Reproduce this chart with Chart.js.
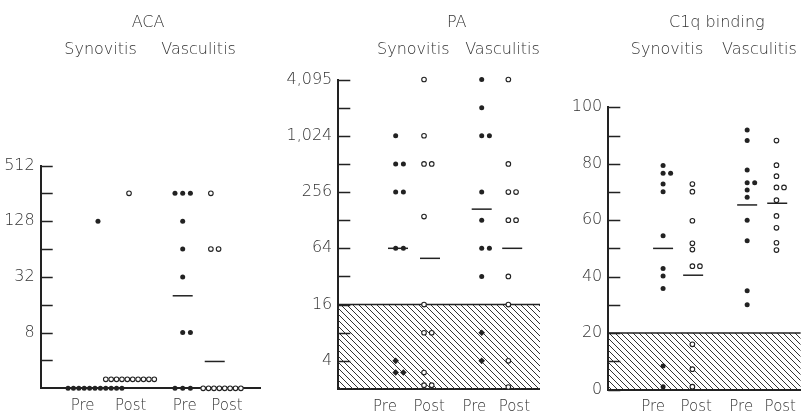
<!DOCTYPE html>
<html>
<head>
<meta charset="utf-8">
<script src="https://cdn.jsdelivr.net/npm/chart.js@4.4.1/dist/chart.umd.min.js"></script>
<style>
  body { margin: 0; background: #fff; }
  #wrap { position: relative; width: 805px; height: 416px; }
  canvas { position: absolute; top: 0; }
</style>
</head>
<body>
<div id="wrap">
  <canvas id="aca" width="270" height="416" style="left:0px"></canvas>
  <canvas id="pa" width="270" height="416" style="left:270px"></canvas>
  <canvas id="c1q" width="265" height="416" style="left:540px"></canvas>
</div>
<script>
var ink = '#222';
var categories = ['Pre', 'Post', 'Pre', 'Post'];
var groupNames = ['Synovitis', 'Vasculitis'];

// ACA titres, log2 axis (undetectable sera sit on the floor at 2)
var acaTicks = [4, 8, 16, 32, 64, 128, 256, 512];
var acaTickLabels = ['', '8', '', '32', '', '128', '', '512'];
var acaSynPre = [128, 2, 2, 2, 2, 2, 2, 2, 2, 2, 2, 2];
var acaSynPost = [256, 2.5, 2.5, 2.5, 2.5, 2.5, 2.5, 2.5, 2.5, 2.5, 2.5];
var acaVasPre = [256, 256, 256, 128, 64, 32, 8, 8, 2, 2, 2];
var acaVasPost = [256, 64, 64, 2, 2, 2, 2, 2, 2, 2, 2];
var acaMeans = [null, null, 20, 3.9];

// PA titres, log2 axis, normal range below 16
var paTicks = [4, 8, 16, 32, 64, 128, 256, 512, 1024, 2048, 4096];
var paTickLabels = ['4', '', '16', '', '64', '', '256', '', '1,024', '', '4,095'];
var paSynPre = [1024, 512, 512, 256, 256, 64, 64, 4, 3, 3];
var paSynPost = [4096, 1024, 512, 512, 140, 16, 8, 8, 3, 2.2, 2.2];
var paVasPre = [4096, 2048, 1024, 1024, 256, 128, 64, 64, 32, 8, 4];
var paVasPost = [4096, 512, 256, 256, 128, 128, 32, 16, 4, 2.1];
var paMeans = [64, 50, 168, 64];

// C1q binding (%), normal range below 20
var c1qTicks = [0, 10, 20, 30, 40, 50, 60, 70, 80, 90, 100];
var c1qTickLabels = ['0', '', '20', '', '40', '', '60', '', '80', '', '100'];
var c1qSynPre = [79.4, 76.6, 76.6, 72.8, 70.1, 54.5, 42.9, 40.2, 35.8, 8.3, 1];
var c1qSynPost = [72.8, 70.1, 59.8, 51.8, 49.6, 43.7, 43.7, 16, 7.2, 1];
var c1qVasPre = [92, 88.2, 77.8, 73.3, 73.3, 70.7, 68.1, 60, 52.7, 35, 30];
var c1qVasPost = [88.2, 79.5, 75.6, 71.6, 71.6, 67.1, 61.5, 57.3, 52, 49.4];
var c1qMeans = [50, 40.5, 65.4, 66];

Chart.defaults.font.family = '"DejaVu Sans", sans-serif';
Chart.defaults.font.size = 16;
Chart.defaults.font.weight = 200;
Chart.defaults.color = '#333';

function hatchPattern() {
  var c = document.createElement('canvas');
  c.width = 6; c.height = 6;
  var g = c.getContext('2d');
  g.strokeStyle = '#333';
  g.lineWidth = 1;
  g.beginPath();
  [-6, 0, 6].forEach(function (k) { g.moveTo(0, k); g.lineTo(6, 6 + k); });
  g.stroke();
  return g.createPattern(c, 'repeat');
}

// equal values go side by side in one row
function layoutRows(values, col, shift) {
  var counts = new Map();
  values.forEach(function (v) { counts.set(v, (counts.get(v) || 0) + 1); });
  var pts = [];
  counts.forEach(function (n, v) {
    var step = 1, start = col;
    if (n === 3) start = col - 1;
    if (n > 3) { step = 0.7; start = col + shift - (n - 1) * step / 2; }
    for (var i = 0; i < n; i++) pts.push({ x: start + i * step, y: v });
  });
  return pts;
}

var panelText = {
  id: 'panelText',
  afterDraw: function (chart, args, o) {
    var ctx = chart.ctx, x = chart.scales.x, y = chart.scales.y, area = chart.chartArea;
    ctx.save();
    ctx.fillStyle = '#333';
    ctx.textAlign = 'center';
    ctx.textBaseline = 'alphabetic';
    ctx.font = '200 16px "DejaVu Sans"';
    ctx.fillText(o.title, x.getPixelForValue(o.titleAt), 26.5);
    o.groupAt.forEach(function (u, i) {
      ctx.fillText(groupNames[i], x.getPixelForValue(u), 54);
    });
    // tick marks point into the plot
    ctx.strokeStyle = ink;
    ctx.lineWidth = 1.5;
    ctx.beginPath();
    y.ticks.forEach(function (t) {
      var py = Math.round(y.getPixelForValue(t.value)) + 0.5;
      ctx.moveTo(area.left, py);
      ctx.lineTo(area.left + 12, py);
    });
    ctx.stroke();
    ctx.restore();
  }
};

function makePanel(p) {
  var filled = [], open = [], means = [];
  p.groups.forEach(function (vals, g) {
    var target = g % 2 === 0 ? filled : open;
    layoutRows(vals, p.cols[g], p.rowShift[g]).forEach(function (pt) { target.push(pt); });
    if (p.means[g] != null) means.push({ x: p.cols[g] + p.meanShift[g], y: p.means[g] });
  });
  var inHatch = function (ctx) {
    return p.diamonds && ctx.raw && ctx.raw.y < p.threshold;
  };
  var datasets = [
    { data: means, pointStyle: 'line', pointRadius: 10, borderColor: ink, borderWidth: 1.5, order: 0, clip: false },
    { data: filled, order: 1, clip: false,
      pointStyle: function (ctx) { return inHatch(ctx) ? 'rectRot' : 'circle'; },
      pointRadius: function (ctx) { return inHatch(ctx) ? 3.3 : 2.5; },
      backgroundColor: ink, borderColor: ink, borderWidth: 0 },
    { data: open, order: 1, clip: false, pointStyle: 'circle', pointRadius: 2.3,
      backgroundColor: '#fff', borderColor: ink, borderWidth: 1.1 }
  ];
  if (p.threshold != null) {
    datasets.push({
      type: 'line', order: 5,
      data: [{ x: 0, y: p.threshold }, { x: p.xMax, y: p.threshold }],
      fill: 'start', backgroundColor: hatchPattern(),
      borderColor: ink, borderWidth: 1.5, pointRadius: 0
    });
  }
  return new Chart(document.getElementById(p.id), {
    type: 'scatter',
    data: { datasets: datasets },
    options: {
      responsive: false,
      animation: false,
      events: [],
      layout: { autoPadding: false, padding: { top: p.top, right: p.right, bottom: 0, left: 0 } },
      plugins: {
        legend: { display: false },
        tooltip: { enabled: false },
        panelText: { title: p.title, titleAt: p.titleAt, groupAt: p.groupAt }
      },
      scales: {
        x: {
          type: 'linear', min: 0, max: p.xMax, bounds: 'data',
          grid: { display: false, drawTicks: false },
          border: { display: true, color: ink, width: 2 },
          afterFit: function (s) { s.height = p.xHeight; },
          afterBuildTicks: function (s) { s.ticks = p.labelAt.map(function (v) { return { value: v }; }); },
          ticks: { autoSkip: false, maxRotation: 0, padding: 9, font: { size: 15 },
            callback: function (v, i) { return categories[i]; } }
        },
        y: {
          type: p.yType, min: p.yMin, max: p.yMax, bounds: 'data',
          grid: { display: false, drawTicks: false },
          border: { display: true, color: ink, width: 2 },
          afterFit: function (s) { s.width = p.yWidth; },
          afterBuildTicks: function (s) { s.ticks = p.tickVals.map(function (v) { return { value: v }; }); },
          ticks: { autoSkip: false, padding: 6, font: { size: 16 },
            callback: function (v, i) { return p.tickLabels[i]; } }
        }
      }
    },
    plugins: [panelText]
  });
}

makePanel({
  id: 'aca', title: 'ACA', titleAt: 13.94, groupAt: [7.77, 20.5],
  groups: [acaSynPre, acaSynPost, acaVasPre, acaVasPost], means: acaMeans,
  cols: [7.44, 11.47, 18.44, 22.1], rowShift: [-0.39, 0.13, 0, 1.45], meanShift: [0, 0, 0, 0.5],
  labelAt: [5.45, 11.7, 18.7, 24.2],
  yType: 'logarithmic', yMin: 2, yMax: 512, tickVals: acaTicks, tickLabels: acaTickLabels,
  xMax: 28.48, top: 165.5, right: 10, xHeight: 27.7, yWidth: 40.7, threshold: null, diamonds: false
});

makePanel({
  id: 'pa', title: 'PA', titleAt: 15.38, groupAt: [9.74, 21.32],
  groups: [paSynPre, paSynPost, paVasPre, paVasPost], means: paMeans,
  cols: [7.45, 11.13, 18.62, 22.08], rowShift: [0, 0, 0, 0], meanShift: [0.3, 0.78, 0, 0.5],
  labelAt: [6.06, 11.8, 17.66, 22.86],
  yType: 'logarithmic', yMin: 2, yMax: 4096, tickVals: paTicks, tickLabels: paTickLabels,
  xMax: 26.19, top: 79.5, right: 0, xHeight: 27, yWidth: 68.3, threshold: 16, diamonds: true
});

makePanel({
  id: 'c1q', title: 'C1q binding', titleAt: 14.4, groupAt: [7.8, 20.06],
  groups: [c1qSynPre, c1qSynPost, c1qVasPre, c1qVasPost], means: c1qMeans,
  cols: [7.27, 11.16, 18.43, 22.32], rowShift: [0, 0, 0, 0], meanShift: [0, 0.1, 0, 0.1],
  labelAt: [5.95, 11.66, 17.64, 22.83],
  yType: 'linear', yMin: 0, yMax: 100, tickVals: c1qTicks, tickLabels: c1qTickLabels,
  xMax: 25.55, top: 107.3, right: 0, xHeight: 26.5, yWidth: 68.3, threshold: 20, diamonds: false
});
</script>
</body>
</html>
